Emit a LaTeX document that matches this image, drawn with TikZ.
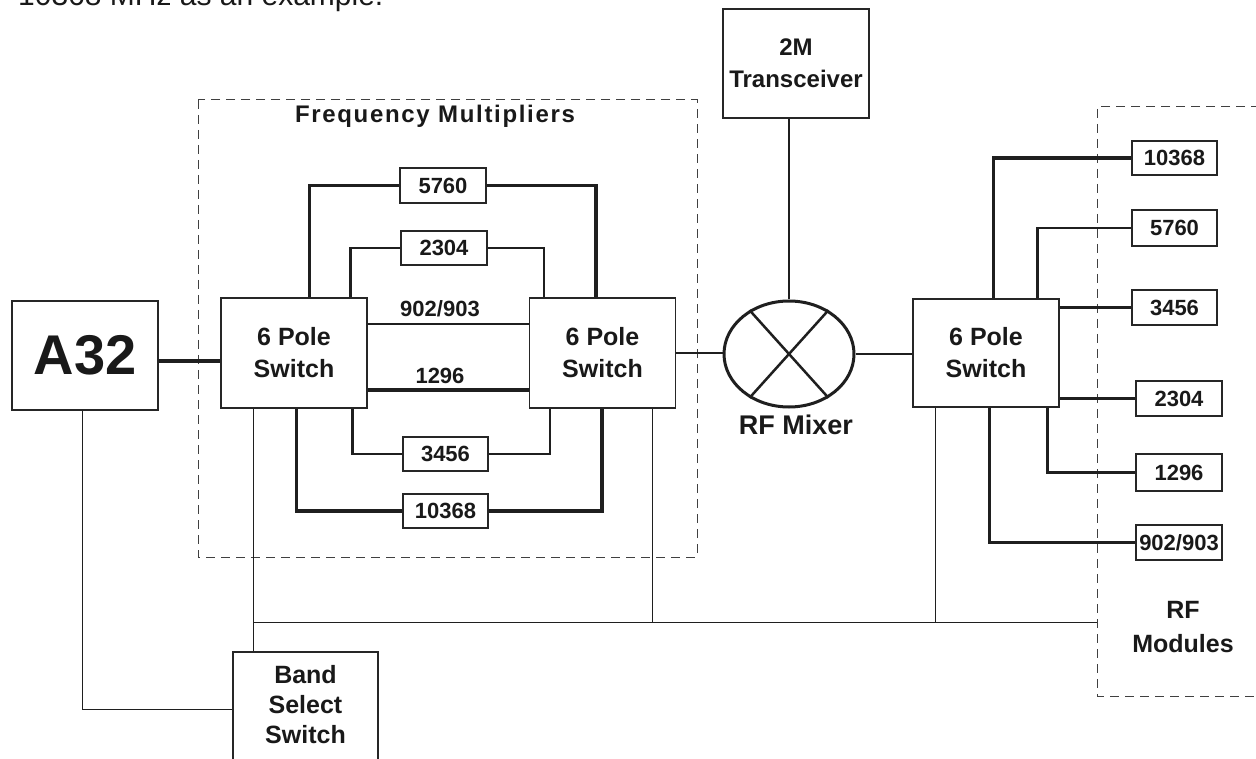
\documentclass[tikz,border=0pt]{standalone}
\usepackage{fontspec}
\setmainfont{Liberation Sans}
\usetikzlibrary{shapes.geometric}
\begin{document}
\begin{tikzpicture}[x=1pt,y=-1pt,
  ln/.style={draw=black!88},
  box/.style={draw=black!85, line width=1.2pt, inner sep=0pt, text=black!90},
  fbox/.style={box, font=\fontsize{22}{24}\selectfont\bfseries},
  swbox/.style={box, minimum width=146pt, minimum height=110pt, align=center, font=\fontsize{25}{32}\selectfont\bfseries},
  wA/.style={ln, line width=3.2pt},
  wB/.style={ln, line width=2.2pt},
  wC/.style={ln, line width=1pt},
  frame/.style={draw=black!75, line width=1pt, dash pattern=on 9pt off 6pt},
  lbl/.style={font=\fontsize{22}{24}\selectfont\bfseries, inner sep=0pt, text=black!90}
]
\useasboundingbox (0,0) rectangle (1256,759);

% cropped top text
\node[anchor=base west, inner sep=0pt, font=\fontsize{30}{30}\selectfont, text=black!90] (toptext) at (18,6) {10368 MHz as an example.};

% frames
\draw[frame] (198,100) rectangle (697,557);
\node[anchor=base, inner sep=0pt, font=\fontsize{24}{26}\selectfont\bfseries\addfontfeature{LetterSpace=7}, text=black!90] (fmtitle) at (435,123) {Frequency Multipliers};
\draw[frame] (1290,107) -- (1097,107) -- (1097,696) -- (1290,696);
\node[align=center, inner sep=0pt, font=\fontsize{25}{34}\selectfont\bfseries, text=black!90] (rfmod) at (1183,627) {RF\\Modules};

% main blocks
\node[box, minimum width=146pt, minimum height=109pt, font=\fontsize{56}{60}\selectfont\bfseries] (a32) at (85,355.5) {A32};
\node[swbox] (sw1) at (294,353) {6 Pole\\Switch};
\node[swbox] (sw2) at (602.5,353) {6 Pole\\Switch};
\node[swbox, minimum height=108pt] (sw3) at (986,353) {6 Pole\\Switch};
\node[box, minimum width=146pt, minimum height=109pt, align=center, font=\fontsize{24}{32}\selectfont\bfseries] (trx) at (796,63.5) {2M\\Transceiver};
\node[draw=black!88, ellipse, line width=3pt, minimum width=130pt, minimum height=106pt, inner sep=0pt] (mix) at (789,354) {};
\draw[ln, line width=2.5pt] (mix.132) -- (mix.-48);
\draw[ln, line width=2.5pt] (mix.48) -- (mix.-132);
\node[anchor=base, inner sep=0pt, font=\fontsize{27}{30}\selectfont\bfseries, text=black!90] (mixl) at (796,434) {RF Mixer};
\node[box, minimum width=145pt, minimum height=114pt] (bss) at (305.5,709) {};
\node[align=center, inner sep=0pt, font=\fontsize{25}{30}\selectfont\bfseries, text=black!90] (bsst) at (305.5,705) {Band\\Select\\Switch};

% multiplier boxes
\node[fbox, minimum width=86pt, minimum height=35pt] (f5760) at (443,185.5) {5760};
\node[fbox, minimum width=86pt, minimum height=34pt] (f2304) at (444,248) {2304};
\node[fbox, minimum width=85pt, minimum height=34pt] (f3456) at (445.5,454) {3456};
\node[fbox, minimum width=85pt, minimum height=34pt] (f10368) at (445.5,511) {10368};

% RF module boxes
\node[fbox, minimum width=85pt, minimum height=34pt] (r10368) at (1174.5,158) {10368};
\node[fbox, minimum width=85pt, minimum height=36pt] (r5760) at (1174.5,228) {5760};
\node[fbox, minimum width=85pt, minimum height=35pt] (r3456) at (1174.5,307.5) {3456};
\node[fbox, minimum width=86pt, minimum height=35pt] (r2304) at (1179,398.5) {2304};
\node[fbox, minimum width=86pt, minimum height=37pt] (r1296) at (1179,472.5) {1296};
\node[fbox, minimum width=86pt, minimum height=35pt] (r902) at (1179,542.5) {902/903};

% connections between switches
\draw[wA] ([xshift=89pt]sw1.north west) |- (f5760.west);
\draw[wA] (f5760.east) -| ([xshift=67pt]sw2.north west);
\draw[wB] ([xshift=130pt]sw1.north west) |- (f2304.west);
\draw[wB] (f2304.east) -| ([xshift=15pt]sw2.north west);
\draw[wB] ([yshift=29pt]sw1.east) -- ([yshift=29pt]sw2.west);
\node[lbl, anchor=base] (l902) at (440,317) {902/903};
\draw[ln, line width=3.4pt] ([yshift=-37pt]sw1.east) -- ([yshift=-37pt]sw2.west);
\node[lbl, anchor=base] (l1296) at (440,383) {1296};
\draw[wB] ([xshift=132pt]sw1.south west) |- (f3456.west);
\draw[wB] (f3456.east) -| ([xshift=21pt]sw2.south west);
\draw[wA] ([xshift=76pt]sw1.south west) |- (f10368.west);
\draw[wA] (f10368.east) -| ([xshift=73pt]sw2.south west);

% main signal path
\draw[ln, line width=3.5pt] ([yshift=-5.5pt]a32.east) -- ([yshift=-8pt]sw1.west);
\draw[ln, line width=2.5pt] (sw2.east) -- (sw2.east -| mix.west);
\draw[ln, line width=2.5pt] (mix.east) -- (mix.east -| sw3.west);
\draw[ln, line width=2.2pt] (trx.south -| mix.north) -- (mix.north);

% RF module connections
\draw[wA] ([xshift=81pt]sw3.north west) |- (r10368.west);
\draw[wB] ([xshift=125pt]sw3.north west) |- (r5760.west);
\draw[wB] (r3456.west -| sw3.east) -- (r3456.west);
\draw[wB] (r2304.west -| sw3.east) -- (r2304.west);
\draw[wB] ([xshift=135pt]sw3.south west) |- (r1296.west);
\draw[ln, line width=3.5pt] ([xshift=77pt]sw3.south west) |- (r902.west);

% control bus
\coordinate (busL) at (254,622);
\coordinate (busR) at (1097,622);
\draw[wC] ([xshift=33pt]sw1.south west) -- ([xshift=21pt]bss.north west);
\draw[wC] (busL) -- (busR);
\draw[wC] ([xshift=124pt]sw2.south west) |- (busR);
\draw[wC] ([xshift=23pt]sw3.south west) |- (busR);
\draw[wC] ([xshift=-3pt]a32.south) |- (bss.west);
\end{tikzpicture}
\end{document}
